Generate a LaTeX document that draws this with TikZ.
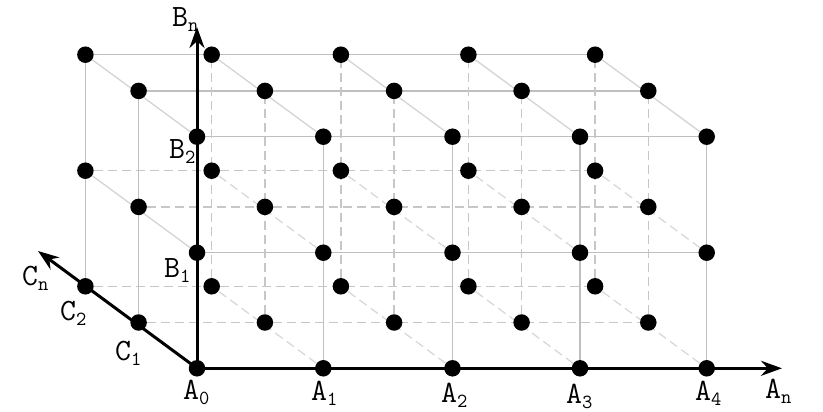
\documentclass[tikz,border=0pt]{standalone}
\usetikzlibrary{arrows.meta}
\pgfdeclarelayer{bg}
\pgfsetlayers{bg,main}
\newcommand\lab[2]{#1\raisebox{-5pt}{\fontsize{20}{20}\selectfont #2}}
\begin{document}
\begin{tikzpicture}[x=1pt,y=-1pt,
  dot/.style={circle,fill=black,inner sep=0pt,minimum size=16.5pt},
  vis/.style={draw=black!25,line width=1.3pt},
  hid/.style={draw=black!22,line width=1.3pt,dash pattern=on 9pt off 5pt},
  visd/.style={draw=black!17,line width=1.3pt},
  hidd/.style={draw=black!15,line width=1.3pt,dash pattern=on 9pt off 5pt},
  axis/.style={line width=3pt,-{Stealth[length=21pt,width=15pt]}},
  lbl/.style={anchor=base west,inner sep=0pt,font=\ttfamily\fontsize{31}{31}\selectfont}]
\begin{pgfonlayer}{bg}
\fill[white] (0,0) rectangle (823,412);
\end{pgfonlayer}
\useasboundingbox (0,0) rectangle (823,412);
% lattice points
\foreach \a in {0,...,4} {
  \foreach \b in {0,1,2} {
    \foreach \c in {0,1,2} {
      \pgfmathsetmacro\px{{197,323.3,452.5,580,706.7}[\a]+{0,-58.4,-111.6}[\c]}
      \pgfmathsetmacro\py{{368.3,252.7,136.7}[\b]+{0,-45.8,-82}[\c]}
      \node[dot] (p\a\b\c) at (\px,\py) {};
    }
  }
}
\begin{pgfonlayer}{bg}
% lines along A
\foreach \b/\c in {1/0,2/0,2/1,2/2} \draw[vis] (p0\b\c) -- (p4\b\c);
\foreach \b/\c in {0/1,0/2,1/1,1/2} \draw[hid] (p0\b\c) -- (p4\b\c);
% lines along B
\foreach \a/\c in {1/0,2/0,3/0,4/0,0/1,0/2} \draw[vis] (p\a0\c) -- (p\a2\c);
\foreach \a in {1,2,3,4} {\foreach \c in {1,2} {\draw[hid] (p\a0\c) -- (p\a2\c);}}
% lines along C
\foreach \a/\b in {0/1,0/2,1/2,2/2,3/2,4/2} \draw[visd] (p\a\b0) -- (p\a\b2);
\foreach \a in {1,2,3,4} {\foreach \b in {0,1} {\draw[hidd] (p\a\b0) -- (p\a\b2);}}
\end{pgfonlayer}
% axes
\coordinate (Atip) at (782,368.3);
\coordinate (Btip) at (197,27);
\coordinate (Ctip) at (38,251);
\draw[axis] (p000.center) -- (Atip);
\draw[axis] (p000.center) -- (Btip);
\draw[axis] (p000.center) -- (Ctip);
% labels
\node[lbl] (lA0) at (183,399) {\lab{A}{0}};
\node[lbl] (lA1) at (311,400) {\lab{A}{1}};
\node[lbl] (lA2) at (441,402) {\lab{A}{2}};
\node[lbl] (lA3) at (566,403) {\lab{A}{3}};
\node[lbl] (lA4) at (695,400) {\lab{A}{4}};
\node[lbl] (lAn) at (765,398) {\lab{A}{n}};
\node[lbl] (lB1) at (164,277) {\lab{B}{1}};
\node[lbl] (lB2) at (169,158) {\lab{B}{2}};
\node[lbl] (lBn) at (172,27) {\lab{B}{n}};
\node[lbl] (lC1) at (115,360) {\lab{C}{1}};
\node[lbl] (lC2) at (60,320) {\lab{C}{2}};
\node[lbl] (lCn) at (22,285) {\lab{C}{n}};
\end{tikzpicture}
\end{document}
